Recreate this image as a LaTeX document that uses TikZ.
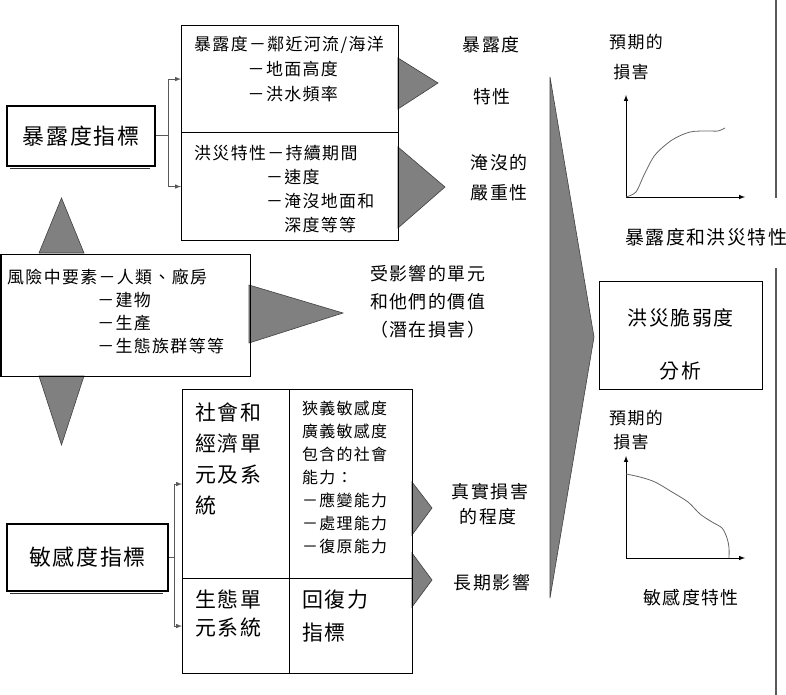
\documentclass[tikz,border=0pt]{standalone}
\usepackage{fontspec}
\setmainfont{Noto Sans CJK TC}[LetterSpace=8]
\usepackage{tikz}
\usetikzlibrary{arrows,positioning,calc}
\newcommand{\fs}[2]{\fontsize{#1}{#2}\selectfont}
\definecolor{arrowgray}{RGB}{128,128,128}
\definecolor{linegray}{RGB}{90,90,90}
\tikzset{
  ibox/.style={draw, line width=1.1bp, inner sep=0pt},
  txt/.style={inner sep=0pt, align=left},
  lbl/.style={inner sep=0pt, align=center, font=\fs{18}{22}},
  tri/.style={fill=arrowgray, draw=black!75, line width=0.6bp},
  link/.style={draw=linegray, line width=1bp},
  axis/.style={line width=1bp, arrows=-latex},
  curve/.style={draw=black!60, line width=0.8bp}
}

\begin{document}
\begin{tikzpicture}[x=1bp,y=-1bp]
\useasboundingbox (0,0) rectangle (786,695);
\foreach \xb/\ya/\xt/\yt/\yb in {398/58/438/83/109,398/147/445/187/228,249/285/343/313/343,412/482/432/508/535,412/553/432/580/607}
    \filldraw[tri] (\xb,\ya) -- (\xt,\yt) -- (\xb,\yb) -- cycle;
\filldraw[tri] (39,253) -- (61.5,198) -- (84,253) -- cycle;
\filldraw[tri] (39,376) -- (61.5,445) -- (84,376) -- cycle;
\filldraw[tri] (550,77) -- (594,337) -- (550,598) -- cycle;
\draw[linegray,line width=1.2bp] (776,0) -- (776,198) (776,268) -- (776,695);

\node[ibox, minimum width=148bp, minimum height=60bp, font=\fs{22}{26}] (expind) at (81,136) {暴露度指標};
\draw[black!80, line width=1.1bp] ([xshift=4bp,yshift=-1.8bp]expind.south west) -- ([xshift=-6bp,yshift=-1.8bp]expind.south east);
\node[ibox, anchor=north west, minimum width=217bp, minimum height=107bp] (expo) at (181,25) {};
\node[ibox, anchor=north west, minimum width=217bp, minimum height=108bp] (flood) at (181,132) {};
\node[txt, anchor=north west, font=\fs{17}{25}] (expotxt) at (194,36) {暴露度－鄰近河流/海洋\\\phantom{暴露度}－地面高度\\\phantom{暴露度}－洪水頻率};
\node[txt, anchor=north west, font=\fs{17}{24}] (floodtxt) at (194,145) {洪災特性－持續期間\\\phantom{洪災特性}－速度\\\phantom{洪災特性}－淹沒地面和\\\phantom{洪災特性－}深度等等};
\draw[link] (expind.east) -- ++(13,0) coordinate (ej);
\draw[link, arrows=-latex] (ej) |- (expo.west);
\draw[link, arrows=-latex] (ej) |- (flood.west);
\node[lbl] (expchar) at (491,45) {暴露度};
\node[lbl] (expchar2) at (492,97) {特性};
\node[lbl] (sever) at (499,163) {淹沒的};
\node[lbl] (sever2) at (499,193) {嚴重性};

\node[ibox, anchor=north west, minimum width=249bp, minimum height=122bp] (risk) at (0.5,254) {};
\node[txt, anchor=north west, font=\fs{17}{23}] (risktxt) at (7,269) {風險中要素－人類、廠房\\\phantom{風險中要素}－建物\\\phantom{風險中要素}－生產\\\phantom{風險中要素}－生態族群等等};
\node[txt, anchor=north west, font=\fs{18}{28}] (units) at (370,265) {受影響的單元\\和他們的價值\\（潛在損害）};

\node[ibox, minimum width=161bp, minimum height=67bp, font=\fs{22}{26}] (sensind) at (87.5,557.5) {敏感度指標};
\draw[black!80, line width=1.1bp] ([xshift=4bp,yshift=-1.8bp]sensind.south west) -- ([xshift=-6bp,yshift=-1.8bp]sensind.south east);
\node[ibox, anchor=north west, minimum width=107bp, minimum height=189bp] (socio) at (182,389) {};
\node[ibox, anchor=north west, minimum width=123bp, minimum height=189bp] (capa) at (289,389) {};
\node[ibox, anchor=north west, minimum width=107bp, minimum height=95bp] (eco) at (182,578) {};
\node[ibox, anchor=north west, minimum width=123bp, minimum height=95bp] (resil) at (289,578) {};
\node[txt, anchor=north west, font=\fs{21}{31}] (sociotxt) at (195,403) {社會和\\經濟單\\元及系\\統};
\node[txt, anchor=north west, font=\fs{16}{23}] (capatxt) at (302,401) {狹義敏感度\\廣義敏感度\\包含的社會\\能力：\\－應變能力\\－處理能力\\－復原能力};
\node[txt, anchor=north west, font=\fs{21}{28}] (ecotxt) at (195,590) {生態單\\元系統};
\node[txt, anchor=north west, font=\fs{21}{33}] (resiltxt) at (302,590) {回復力\\指標};
\draw[link] (sensind.east) -- ++(6,0) coordinate (sj);
\draw[link, arrows=-latex] (sj) |- (socio.west);
\draw[link, arrows=-latex] (sj) |- (eco.west);
\node[lbl] (real) at (490,492) {真實損害};
\node[lbl] (real2) at (488,517) {的程度};
\node[lbl] (longt) at (492,583) {長期影響};

\node[ibox, anchor=north west, minimum width=163bp, minimum height=108bp] (anal) at (599,281) {};
\node[txt, align=center, font=\fs{20}{53}] (analtxt) at (680.5,344) {洪災脆弱度\\分析};

\coordinate (g1o) at (626,197);
\coordinate (g1y) at (626,95);
\coordinate (g1x) at (745,197);
\draw[axis] (g1o) -- (g1y);
\draw[axis] (g1o) -- (g1x);
\draw[curve] plot[smooth] coordinates {(626,197) (636,192) (644,175) (655,155) (672,140) (690,132) (708,131) (718,131) (725,128)};
\node[lbl, font=\fs{17}{22}] (dmg1) at (636,42) {預期的};
\node[lbl, font=\fs{17}{22}] (dmg1b) at (631,72) {損害};
\node[lbl, anchor=west, font=\fs{19}{22}] (g1lbl) at (625,237) {暴露度和洪災特性};

\coordinate (g2o) at (626,558);
\coordinate (g2y) at (626,456);
\coordinate (g2x) at (745,558);
\draw[axis] (g2o) -- (g2y);
\draw[axis] (g2o) -- (g2x);
\draw[curve] plot[smooth] coordinates {(626,474) (640,477) (655,482) (672,492) (688,502) (700,514) (712,522) (722,528) (727,538) (729,548) (729,558)};
\node[lbl, font=\fs{17}{22}] (dmg2) at (636,418) {預期的};
\node[lbl, font=\fs{17}{22}] (dmg2b) at (631,442) {損害};
\node[lbl] (g2lbl) at (691,598) {敏感度特性};
\end{tikzpicture}
\end{document}
